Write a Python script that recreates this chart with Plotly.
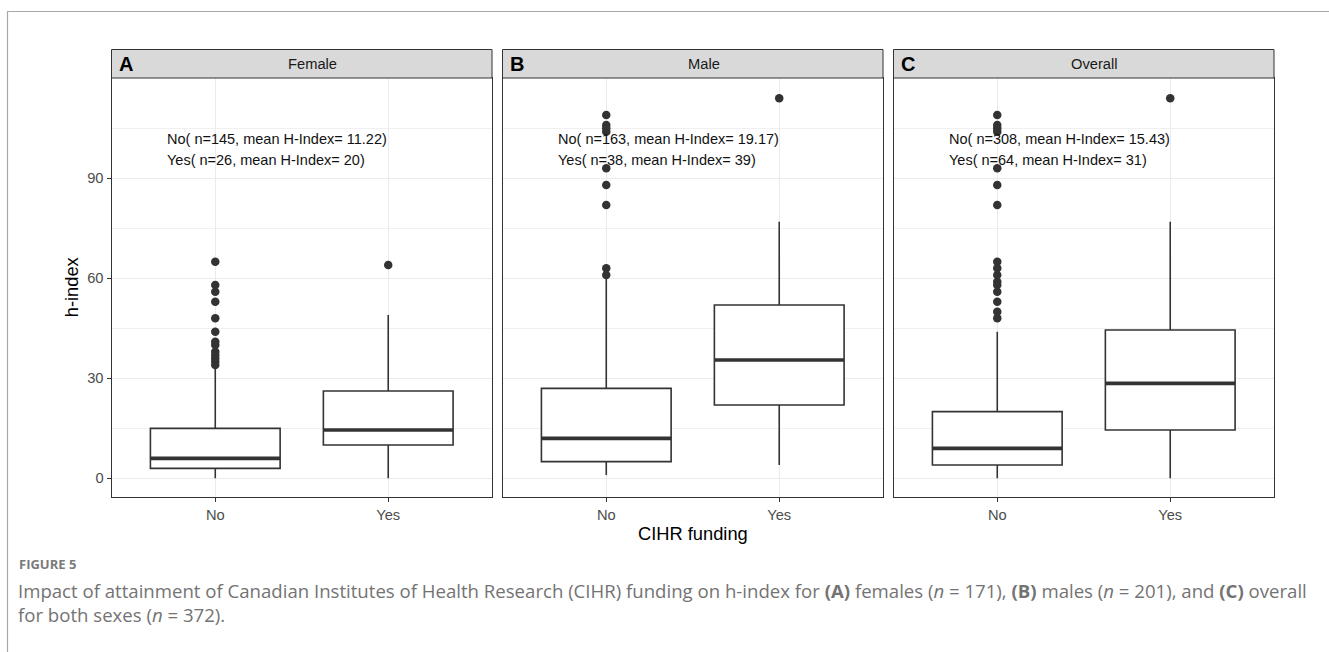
import plotly.graph_objects as go

W, H = 1329, 652

# ---------------- data ----------------
panel_names = ["Female", "Male", "Overall"]
panel_tags = ["A", "B", "C"]
categories = ["No", "Yes"]

q1_vals = [[3, 10], [5, 22], [4, 14.5]]
median_vals = [[6, 14.5], [12, 35.5], [9, 28.5]]
q3_vals = [[15, 26.2], [27, 52], [20, 44.5]]
lower_whisker = [[0, 0], [1, 4], [0, 0]]
upper_whisker = [[33, 49], [60, 77], [44, 77]]

outliers_no = [
    [34, 35, 36, 37, 38, 40, 41, 44, 48, 53, 56, 58, 65],
    [61, 63, 82, 88, 93, 104, 105, 106, 109],
    [48, 50, 53, 56, 58, 59, 61, 63, 65, 82, 88, 93, 104, 105, 106, 109],
]
outliers_yes = [[64], [114], [114]]

n_vals = [[145, 26], [163, 38], [308, 64]]
mean_vals = [["11.22", "20"], ["19.17", "39"], ["15.43", "31"]]

y_ticks = [0, 30, 60, 90]
y_minor = [15, 45, 75, 105]
y_range = [-5.6, 120.1]
x_range = [0.4, 2.6]

# ---------------- layout geometry (pixels) ----------------
panel_left = [111.5, 502.5, 893.5]
panel_w = 380.5
plot_top, plot_bot = 78.0, 497.0
strip_top = 49.5

def px(x):
    return x / W

def py(y):
    return 1 - y / H

fig = go.Figure()
INK = "#333333"
annotations = []
shapes = []

for i in range(3):
    sfx = "" if i == 0 else str(i + 1)
    xa, ya = "x" + sfx, "y" + sfx
    xs = [1, 2]
    fig.add_trace(go.Box(
        x=xs, q1=q1_vals[i], median=median_vals[i], q3=q3_vals[i],
        lowerfence=lower_whisker[i], upperfence=upper_whisker[i],
        width=0.75, whiskerwidth=0, boxpoints=False,
        fillcolor="white", line=dict(color=INK, width=1.6),
        xaxis=xa, yaxis=ya, showlegend=False, hoverinfo="skip"))
    # thick median lines
    mx, my = [], []
    for c, m in zip(xs, median_vals[i]):
        mx += [c - 0.375, c + 0.375, None]
        my += [m, m, None]
    fig.add_trace(go.Scatter(x=mx, y=my, mode="lines",
                             line=dict(color=INK, width=3.6),
                             xaxis=xa, yaxis=ya, showlegend=False, hoverinfo="skip"))
    # outliers
    ox = [1] * len(outliers_no[i]) + [2] * len(outliers_yes[i])
    oy = outliers_no[i] + outliers_yes[i]
    fig.add_trace(go.Scatter(x=ox, y=oy, mode="markers",
                             marker=dict(color=INK, size=8.5),
                             xaxis=xa, yaxis=ya, showlegend=False, hoverinfo="skip"))
    # panel annotations
    for k, (lab, yv) in enumerate(zip(categories, [101.8, 95.5])):
        annotations.append(dict(
            x=0.71, y=yv, xref=xa, yref=ya, xanchor="left", yanchor="middle",
            showarrow=False,
            text=f"{lab}( n={n_vals[i][k]}, mean H-Index= {mean_vals[i][k]})",
            font=dict(family="Liberation Sans, Arial", size=14.5, color="#111111")))

    L = panel_left[i]
    R = L + panel_w
    # axes
    fig.update_layout(**{
        "xaxis" + sfx: dict(
            domain=[px(L), px(R)], anchor=ya, range=x_range,
            tickvals=xs, ticktext=categories,
            showgrid=True, gridcolor="#ebebeb", gridwidth=1.1, zeroline=False,
            ticks="outside", ticklen=4, tickwidth=1, tickcolor=INK,
            tickfont=dict(family="Liberation Sans, Arial", size=14.7, color="#4d4d4d"),
            showline=True, mirror=True, linecolor=INK, linewidth=1),
        "yaxis" + sfx: dict(
            domain=[py(plot_bot), py(plot_top)], anchor=xa, range=y_range,
            tickvals=y_ticks, showgrid=True, gridcolor="#ebebeb", gridwidth=1.1,
            minor=dict(tickvals=y_minor, showgrid=True, gridcolor="#f0f0f0", gridwidth=0.6),
            zeroline=False,
            ticks="outside" if i == 0 else "", ticklen=4, tickwidth=1, tickcolor=INK,
            showticklabels=(i == 0),
            tickfont=dict(family="Liberation Sans, Arial", size=14.7, color="#4d4d4d"),
            showline=True, mirror=True, linecolor=INK, linewidth=1),
    })
    # strip
    shapes.append(dict(type="rect", xref="paper", yref="paper",
                       x0=px(L), x1=px(R), y0=py(plot_top), y1=py(strip_top),
                       fillcolor="#d9d9d9", line=dict(color=INK, width=1)))
    annotations.append(dict(x=px(L + panel_w / 2 + 11), y=py(63.5), xref="paper", yref="paper",
                            xanchor="center", yanchor="middle", showarrow=False,
                            text=panel_names[i],
                            font=dict(family="Liberation Sans, Arial", size=14.7, color="#1a1a1a")))
    annotations.append(dict(x=px(L + 5.5), y=py(64), xref="paper", yref="paper",
                            xanchor="left", yanchor="middle", showarrow=False,
                            text="<b>" + panel_tags[i] + "</b>",
                            font=dict(family="Liberation Sans, Arial", size=20, color="black")))

# axis titles
annotations.append(dict(x=px(71.7), y=py((plot_top + plot_bot) / 2), xref="paper", yref="paper",
                        xanchor="center", yanchor="middle", showarrow=False, textangle=-90,
                        text="h-index",
                        font=dict(family="Liberation Sans, Arial", size=18.3, color="black")))
annotations.append(dict(x=px(692.7), y=py(533), xref="paper", yref="paper",
                        xanchor="center", yanchor="middle", showarrow=False,
                        text="CIHR funding",
                        font=dict(family="Liberation Sans, Arial", size=18.3, color="black")))

# caption
cap_font = "Open Sans, Lato, sans-serif"
cap_x = 16
annotations.append(dict(x=px(cap_x + 1), y=py(564), xref="paper", yref="paper",
                        xanchor="left", yanchor="middle", showarrow=False,
                        text="<b>FIGURE 5</b>",
                        font=dict(family=cap_font, size=13, color="#7a7a7a")))
annotations.append(dict(x=px(cap_x), y=py(590), xref="paper", yref="paper",
                        xanchor="left", yanchor="middle", showarrow=False,
                        text=("Impact of attainment of Canadian Institutes of Health Research (CIHR) funding "
                              "on h-index for <b>(A)</b> females (<i>n</i> = 171), <b>(B)</b> males "
                              "(<i>n</i> = 201), and <b>(C)</b> overall"),
                        font=dict(family=cap_font, size=18.6, color="#737373")))
annotations.append(dict(x=px(cap_x), y=py(614), xref="paper", yref="paper",
                        xanchor="left", yanchor="middle", showarrow=False,
                        text="for both sexes (<i>n</i> = 372).",
                        font=dict(family=cap_font, size=18.6, color="#737373")))

# outer frame lines
shapes.append(dict(type="line", xref="paper", yref="paper",
                   x0=px(7), x1=1, y0=py(11.5), y1=py(11.5),
                   line=dict(color="#a8a8a8", width=1.2)))
shapes.append(dict(type="line", xref="paper", yref="paper",
                   x0=px(7.5), x1=px(7.5), y0=py(11.5), y1=0,
                   line=dict(color="#a8a8a8", width=1.2)))

fig.update_layout(
    width=W, height=H, margin=dict(l=0, r=0, t=0, b=0),
    paper_bgcolor="white", plot_bgcolor="white",
    showlegend=False, annotations=annotations, shapes=shapes,
    font=dict(family="Liberation Sans, Arial"),
)

fig.write_html("out.html")
